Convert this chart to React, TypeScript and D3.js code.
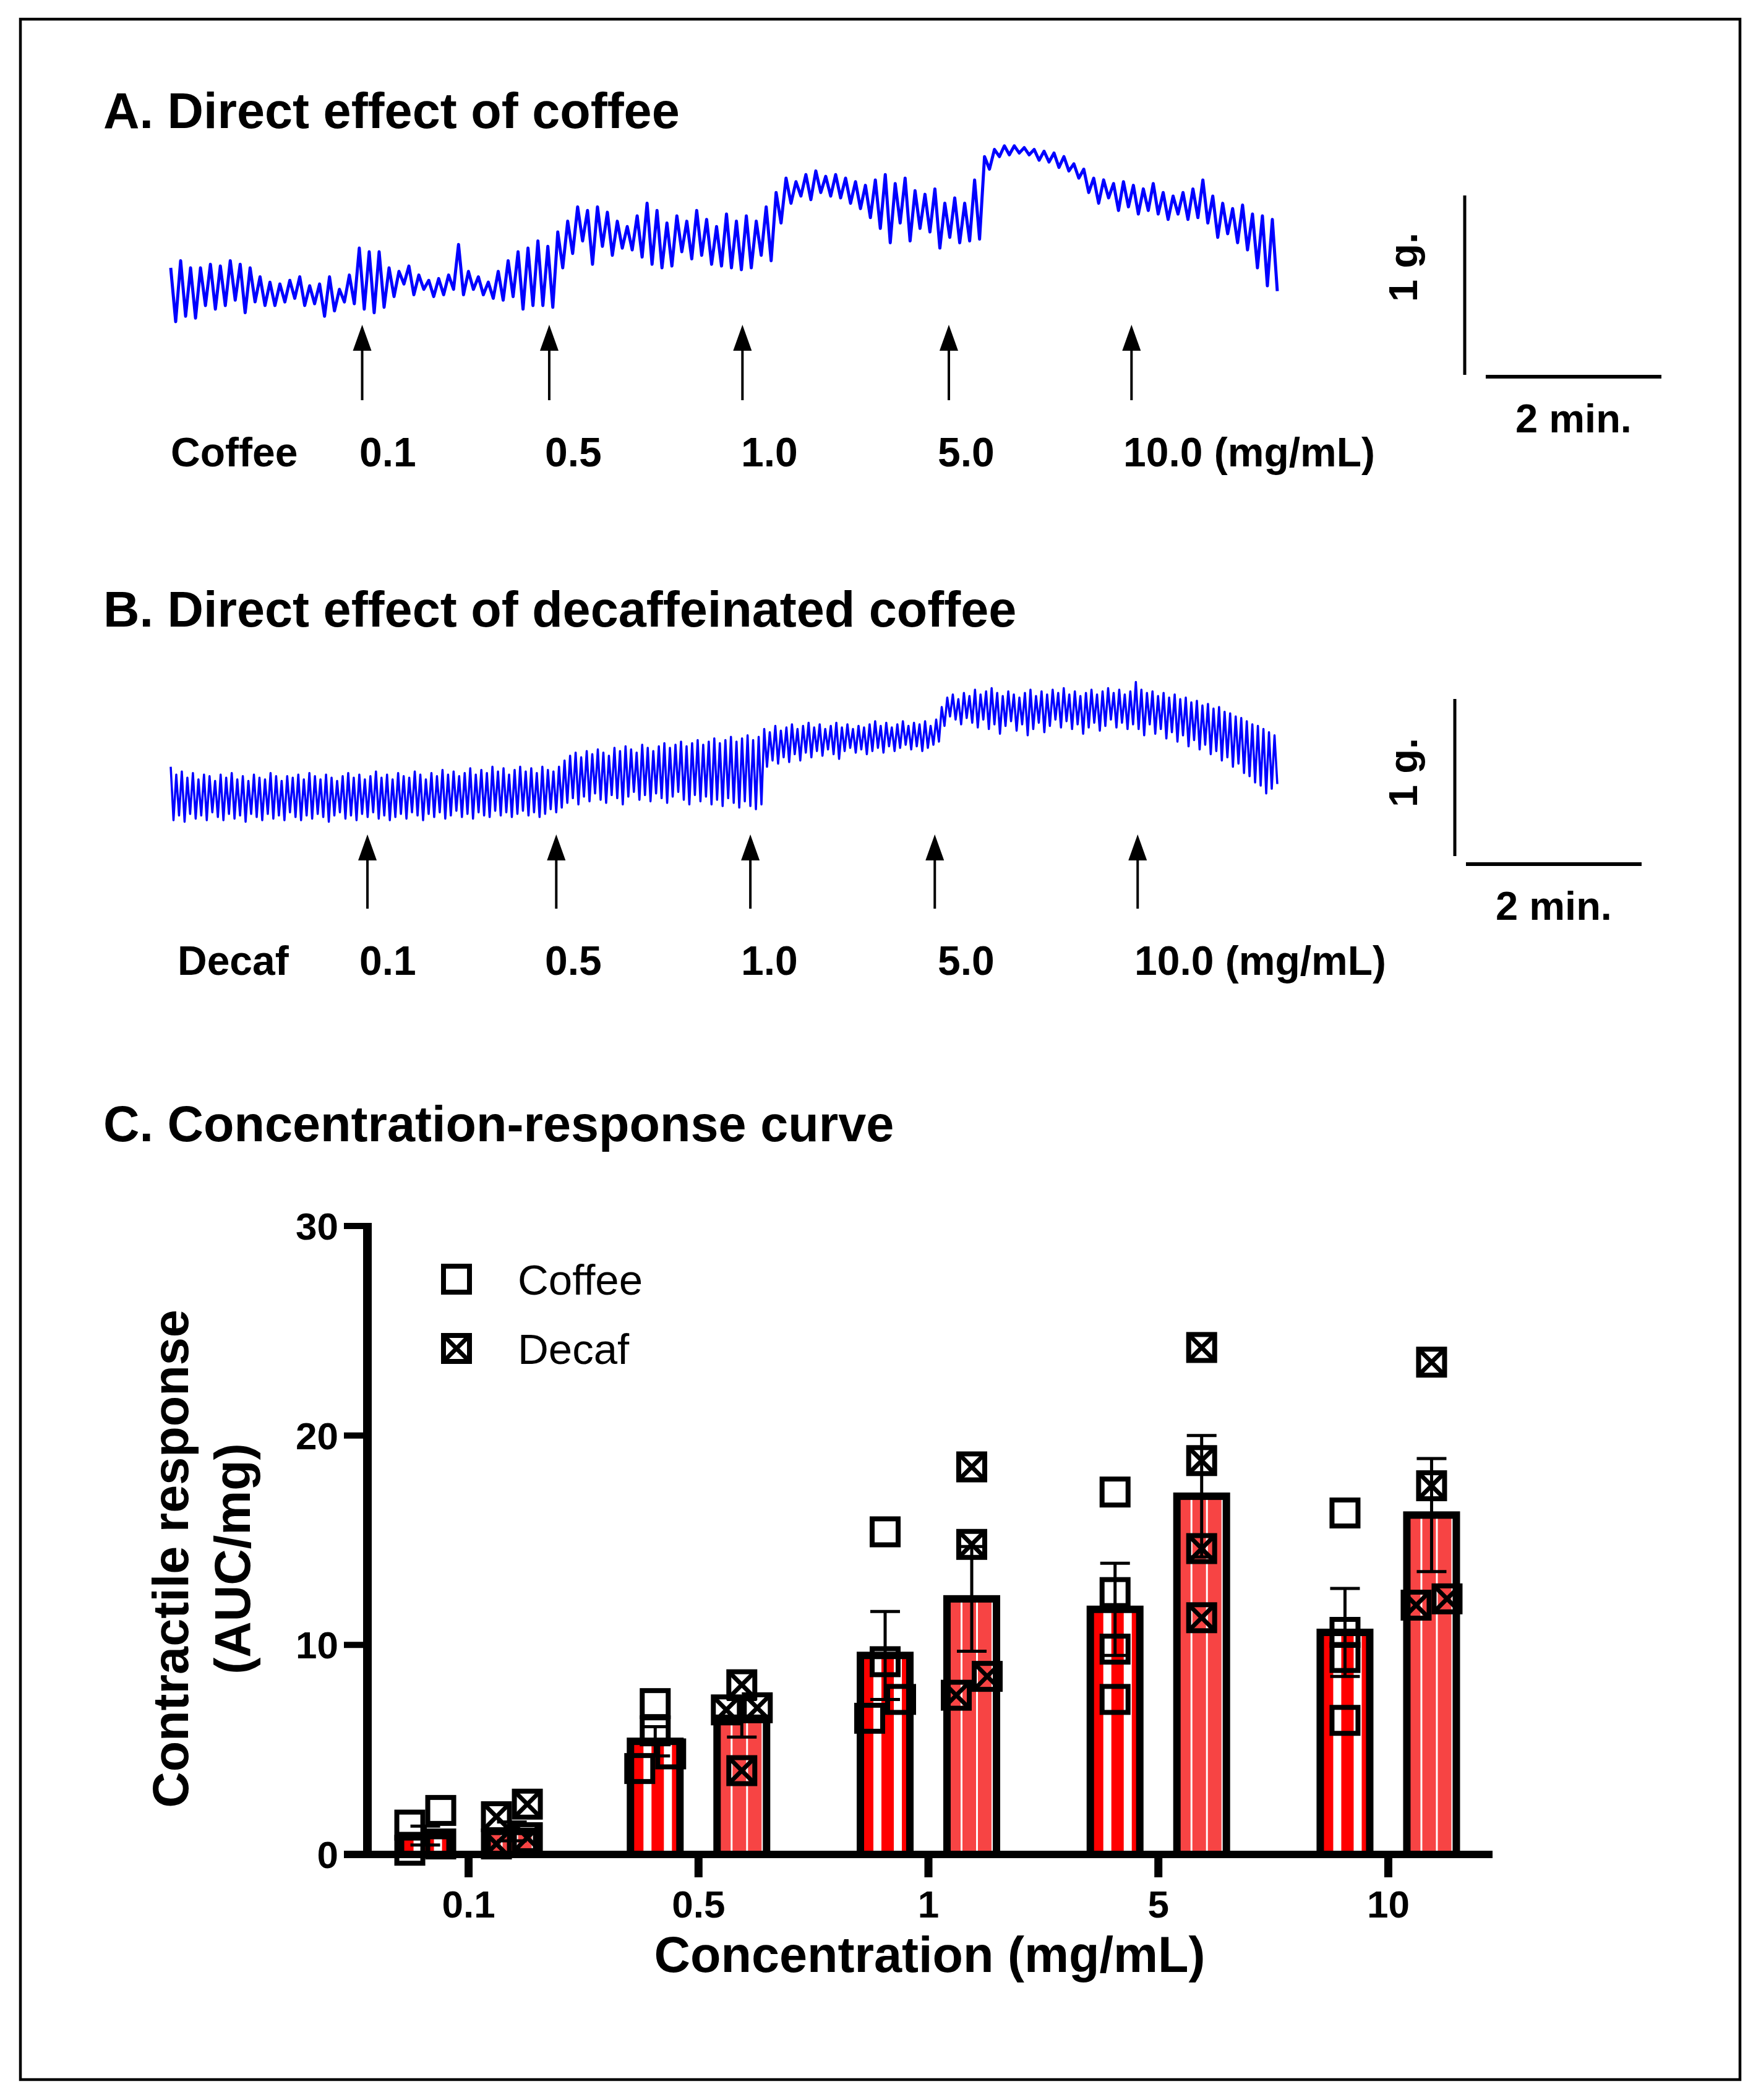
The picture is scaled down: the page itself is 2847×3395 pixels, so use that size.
import React, { useEffect, useRef } from 'react';
import * as d3 from 'd3';

// Panels A and B: isometric tension traces, peak and trough of each twitch (g above trace floor)
const coffeePeaks = [
  0.30, 0.34, 0.30, 0.30, 0.32, 0.31, 0.34, 0.32, 0.30, 0.25,
  0.22, 0.21, 0.23, 0.25, 0.20, 0.21, 0.25, 0.18, 0.26, 0.41,
  0.39, 0.39, 0.30, 0.28, 0.31, 0.26, 0.23, 0.24, 0.26, 0.43,
  0.28, 0.25, 0.22, 0.28, 0.34, 0.39, 0.41, 0.45, 0.42, 0.50,
  0.56, 0.64, 0.62, 0.64, 0.61, 0.56, 0.53, 0.59, 0.66, 0.62,
  0.55, 0.59, 0.56, 0.62, 0.57, 0.53, 0.60, 0.56, 0.59, 0.56,
  0.64, 0.72, 0.80, 0.78, 0.82, 0.84, 0.81, 0.82, 0.80, 0.78,
  0.76, 0.79, 0.82, 0.77, 0.80, 0.73, 0.71, 0.74, 0.66, 0.69,
  0.66, 0.79, 0.92, 0.96, 0.98, 0.98, 0.97, 0.96, 0.95, 0.94,
  0.92, 0.88, 0.85, 0.80, 0.79, 0.77, 0.78, 0.76, 0.74, 0.77,
  0.72, 0.70, 0.72, 0.74, 0.79, 0.70, 0.66, 0.63, 0.65, 0.60,
  0.59, 0.57,
];
const coffeeTroughs = [
  0.00, 0.03, 0.02, 0.09, 0.07, 0.09, 0.12, 0.05, 0.11, 0.09,
  0.09, 0.11, 0.13, 0.09, 0.10, 0.03, 0.06, 0.11, 0.10, 0.07,
  0.05, 0.08, 0.14, 0.21, 0.15, 0.18, 0.14, 0.15, 0.18, 0.15,
  0.18, 0.15, 0.13, 0.12, 0.14, 0.07, 0.09, 0.09, 0.08, 0.30,
  0.38, 0.45, 0.32, 0.42, 0.37, 0.41, 0.40, 0.36, 0.32, 0.30,
  0.31, 0.39, 0.35, 0.37, 0.32, 0.31, 0.30, 0.29, 0.30, 0.37,
  0.34, 0.55, 0.66, 0.70, 0.68, 0.72, 0.70, 0.69, 0.66, 0.63,
  0.58, 0.52, 0.44, 0.55, 0.45, 0.52, 0.50, 0.41, 0.47, 0.44,
  0.45, 0.46, 0.85, 0.92, 0.93, 0.94, 0.93, 0.90, 0.89, 0.86,
  0.84, 0.80, 0.72, 0.66, 0.69, 0.62, 0.64, 0.60, 0.62, 0.60,
  0.57, 0.60, 0.57, 0.58, 0.55, 0.47, 0.49, 0.44, 0.40, 0.30,
  0.20, 0.17,
];
const decafPeaks = [
  0.36, 0.31, 0.33, 0.29, 0.32, 0.28, 0.31, 0.30, 0.27, 0.31,
  0.29, 0.32, 0.28, 0.30, 0.27, 0.31, 0.29, 0.28, 0.32, 0.30,
  0.27, 0.30, 0.29, 0.31, 0.28, 0.32, 0.30, 0.28, 0.31, 0.29,
  0.27, 0.30, 0.32, 0.29, 0.31, 0.28, 0.30, 0.33, 0.29, 0.31,
  0.28, 0.32, 0.30, 0.29, 0.33, 0.31, 0.28, 0.32, 0.30, 0.34,
  0.31, 0.33, 0.30, 0.32, 0.35, 0.31, 0.34, 0.32, 0.36, 0.33,
  0.35, 0.31, 0.34, 0.36, 0.33, 0.35, 0.32, 0.36, 0.34, 0.33,
  0.36,
  0.40, 0.43, 0.45, 0.42, 0.46, 0.44, 0.47, 0.45, 0.43, 0.48,
  0.46, 0.49, 0.47, 0.45, 0.50, 0.48, 0.46, 0.49, 0.51, 0.48,
  0.50, 0.52, 0.49, 0.51, 0.53, 0.50, 0.52, 0.54, 0.51, 0.53,
  0.55, 0.52, 0.54, 0.56, 0.53, 0.55,
  0.60, 0.58, 0.62, 0.59, 0.61, 0.63, 0.60, 0.62, 0.64, 0.61,
  0.63, 0.60, 0.62, 0.64, 0.61, 0.63, 0.60, 0.62, 0.61, 0.63,
  0.65, 0.62, 0.64, 0.61, 0.63, 0.65, 0.62, 0.64, 0.63, 0.65,
  0.62, 0.66,
  0.74, 0.80, 0.82, 0.79, 0.83, 0.81, 0.85, 0.82, 0.84, 0.86,
  0.83, 0.81, 0.84, 0.82, 0.80, 0.83, 0.85, 0.81, 0.84, 0.82,
  0.85, 0.83, 0.86, 0.82, 0.84, 0.81, 0.83, 0.85, 0.82, 0.84,
  0.86, 0.83, 0.85, 0.82, 0.84,
  0.90, 0.85, 0.83, 0.84, 0.81, 0.83, 0.80, 0.82, 0.79, 0.80,
  0.77, 0.78, 0.75, 0.76, 0.73, 0.74, 0.71, 0.70, 0.68, 0.67,
  0.65, 0.63, 0.62, 0.60, 0.58, 0.56,
];
const decafTroughs = [
  0.02, 0.05, 0.01, 0.06, 0.03, 0.05, 0.02, 0.07, 0.04, 0.02,
  0.06, 0.03, 0.05, 0.01, 0.06, 0.04, 0.02, 0.06, 0.03, 0.05,
  0.02, 0.07, 0.04, 0.02, 0.05, 0.03, 0.06, 0.04, 0.01, 0.05,
  0.07, 0.03, 0.05, 0.02, 0.06, 0.04, 0.07, 0.03, 0.05, 0.02,
  0.04, 0.06, 0.03, 0.07, 0.05, 0.02, 0.06, 0.04, 0.07, 0.03,
  0.05, 0.08, 0.04, 0.06, 0.03, 0.07, 0.05, 0.04, 0.08, 0.05,
  0.07, 0.04, 0.06, 0.08, 0.05, 0.07, 0.04, 0.06, 0.09, 0.07,
  0.10,
  0.13, 0.16, 0.12, 0.17, 0.14, 0.19, 0.15, 0.13, 0.18, 0.16,
  0.12, 0.17, 0.20, 0.15, 0.18, 0.14, 0.19, 0.16, 0.13, 0.17,
  0.20, 0.15, 0.12, 0.18, 0.14, 0.17, 0.12, 0.15, 0.11, 0.16,
  0.13, 0.10, 0.14, 0.11, 0.09, 0.12,
  0.36, 0.40, 0.38, 0.42, 0.39, 0.44, 0.40, 0.45, 0.42, 0.46,
  0.43, 0.47, 0.44, 0.41, 0.46, 0.48, 0.45, 0.47, 0.44, 0.46,
  0.48, 0.45, 0.49, 0.46, 0.48, 0.50, 0.47, 0.49, 0.46, 0.48,
  0.50, 0.52,
  0.62, 0.68, 0.66, 0.63, 0.67, 0.64, 0.61, 0.66, 0.60, 0.63,
  0.57, 0.62, 0.65, 0.59, 0.63, 0.56, 0.60, 0.64, 0.58, 0.62,
  0.66, 0.61, 0.65, 0.60, 0.63, 0.57, 0.61, 0.64, 0.59, 0.62,
  0.66, 0.61, 0.64, 0.60, 0.63,
  0.60, 0.56, 0.63, 0.57, 0.60, 0.54, 0.58, 0.52, 0.56, 0.49,
  0.53, 0.47, 0.50, 0.44, 0.46, 0.40, 0.42, 0.36, 0.38, 0.32,
  0.30, 0.26, 0.24, 0.19, 0.22, 0.25,
];
const traceMinutes = 12.6;
// minutes after start of recording at which each dose was added
const coffeeDoseTimes = [2.18, 4.31, 6.51, 8.86, 10.94];
const decafDoseTimes = [2.24, 4.39, 6.60, 8.70, 11.01];
const doseLabels = ['0.1', '0.5', '1.0', '5.0', '10.0 (mg/mL)'];

// Panel C: concentration-response
const concentrations = ['0.1', '0.5', '1', '5', '10'];
const series = ['Coffee', 'Decaf'];
const coffeeMean = [0.9, 5.4, 9.5, 11.7, 10.6];
const coffeeSem = [0.45, 0.7, 2.1, 2.2, 2.1];
const decafMean = [1.1, 6.5, 12.2, 17.1, 16.2];
const decafSem = [0.45, 0.9, 2.5, 2.9, 2.7];
const coffeePoints = [
  [2.1, 1.4, 0.5, 0.2],
  [7.2, 5.9, 4.8, 4.1],
  [15.4, 9.2, 7.4, 6.5],
  [17.3, 12.5, 9.8, 7.4],
  [16.3, 10.6, 9.4, 6.4],
];
const decafPoints = [
  [2.4, 1.8, 0.8, 0.5],
  [8.1, 7.0, 6.9, 4.0],
  [18.5, 14.8, 8.5, 7.6],
  [24.2, 18.8, 14.6, 11.3],
  [23.5, 17.6, 12.2, 11.9],
];
const yTicks = [0, 10, 20, 30];

const font = '"Liberation Sans", Arial, Helvetica, sans-serif';

function drawTrace(svg, o) {
  const t = d3.scaleLinear().domain([0, traceMinutes]).range([276, 2065]);
  const g = d3.scaleLinear().domain([0, 1]).range([o.floor, o.floor - o.gramPx]);
  const vals = o.peaks.flatMap((p, i) => [p, o.troughs[i]]);
  const step = traceMinutes / (vals.length - 1);
  const line = d3.line().x((d, i) => t(i * step)).y(d => g(d));

  svg.append('path')
    .attr('d', line(vals))
    .attr('fill', 'none')
    .attr('stroke', '#0000ff')
    .attr('stroke-width', o.lineWidth)
    .attr('stroke-linejoin', 'round');

  const arrows = svg.append('g')
    .selectAll('g')
    .data(o.doses)
    .join('g')
    .attr('transform', d => `translate(${t(d)},0)`);
  arrows.append('line')
    .attr('y1', o.arrowTop + 30)
    .attr('y2', o.arrowEnd)
    .attr('stroke', '#000')
    .attr('stroke-width', 4);
  arrows.append('path')
    .attr('d', `M0,${o.arrowTop}L-15,${o.arrowTop + 42}L15,${o.arrowTop + 42}Z`)
    .attr('fill', '#000');

  const label = (txt, x) => svg.append('text')
    .attr('x', x)
    .attr('y', o.labelY)
    .attr('font-family', font)
    .attr('font-weight', 'bold')
    .attr('font-size', 66)
    .text(txt);
  label(o.name, o.nameX);
  doseLabels.forEach((d, i) => label(d, o.labelStarts[i]));

  // scale bars: 1 g and 2 min
  const gLen = g(0) - g(1);
  const tLen = t(2) - t(0);
  svg.append('line')
    .attr('x1', o.barX).attr('x2', o.barX)
    .attr('y1', o.barBottom).attr('y2', o.barBottom - gLen)
    .attr('stroke', '#000').attr('stroke-width', 5);
  svg.append('line')
    .attr('x1', o.hBarX).attr('x2', o.hBarX + tLen)
    .attr('y1', o.hBarY).attr('y2', o.hBarY)
    .attr('stroke', '#000').attr('stroke-width', 6);
  svg.append('text')
    .attr('transform', `translate(2291,${o.gLabelY}) rotate(-90)`)
    .attr('text-anchor', 'middle')
    .attr('font-family', font)
    .attr('font-weight', 'bold')
    .attr('font-size', 65)
    .text('1 g.');
  svg.append('text')
    .attr('x', o.hBarX + tLen / 2)
    .attr('y', o.minY)
    .attr('text-anchor', 'middle')
    .attr('font-family', font)
    .attr('font-weight', 'bold')
    .attr('font-size', 65)
    .text('2 min.');
}

// spread overlapping replicate points sideways, like a column scatter
function jitter(values) {
  const order = values.map((v, i) => i).sort((a, b) => values[b] - values[a]);
  const offs = values.map(() => 0);
  let k = 0;
  while (k < order.length) {
    let j = k;
    while (j + 1 < order.length && values[order[j]] - values[order[j + 1]] < 1.0) j++;
    if (j > k) {
      for (let m = k; m <= j; m++) offs[order[m]] = (m - k) % 2 === 0 ? 1 : -1;
    }
    k = j + 1;
  }
  return offs;
}

function App() {
  const svgRef = useRef(null);

  useEffect(() => {
    const svg = d3.select(svgRef.current);
    svg.selectAll('*').remove();

    svg.append('rect')
      .attr('x', 33).attr('y', 31)
      .attr('width', 2780).attr('height', 3331)
      .attr('fill', 'none')
      .attr('stroke', '#000')
      .attr('stroke-width', 4.5);

    const title = (txt, y) => svg.append('text')
      .attr('x', 167)
      .attr('y', y)
      .attr('font-family', font)
      .attr('font-weight', 'bold')
      .attr('font-size', 81)
      .text(txt);
    title('A. Direct effect of coffee', 207);
    title('B. Direct effect of decaffeinated coffee', 1013);
    title('C. Concentration-response curve', 1845);

    drawTrace(svg, {
      peaks: coffeePeaks, troughs: coffeeTroughs, doses: coffeeDoseTimes,
      floor: 520, gramPx: 290, lineWidth: 5,
      arrowTop: 525, arrowEnd: 647,
      name: 'Coffee', nameX: 276, labelY: 754,
      labelStarts: [581, 881, 1198, 1516, 1816],
      barX: 2368, barBottom: 606, hBarX: 2402, hBarY: 609,
      gLabelY: 432, minY: 699,
    });
    drawTrace(svg, {
      peaks: decafPeaks, troughs: decafTroughs, doses: decafDoseTimes,
      floor: 1331, gramPx: 254, lineWidth: 3.5,
      arrowTop: 1349, arrowEnd: 1469,
      name: 'Decaf', nameX: 287, labelY: 1576,
      labelStarts: [581, 881, 1198, 1516, 1834],
      barX: 2352, barBottom: 1384, hBarX: 2370, hBarY: 1397,
      gLabelY: 1249, minY: 1487,
    });

    // ---- Panel C ----
    const x = d3.scalePoint().domain(concentrations).range([594, 2408]).padding(0.44);
    const off = d3.scalePoint().domain(series).range([-70, 70]);
    const y = d3.scaleLinear().domain([0, 30]).range([2998, 1982]);
    const fills = { Coffee: '#ff0000', Decaf: '#f74444' };

    const rows = concentrations.flatMap((c, i) => [
      { c, s: 'Coffee', mean: coffeeMean[i], sem: coffeeSem[i], pts: coffeePoints[i] },
      { c, s: 'Decaf', mean: decafMean[i], sem: decafSem[i], pts: decafPoints[i] },
    ]);
    const cx = d => x(d.c) + off(d.s);

    const bars = svg.append('g').selectAll('g').data(rows).join('g');
    bars.append('rect')
      .attr('x', d => cx(d) - 40)
      .attr('y', d => y(d.mean))
      .attr('width', 80)
      .attr('height', d => y(0) - y(d.mean))
      .attr('fill', d => fills[d.s]);
    bars.each(function (d) {
      const gEl = d3.select(this);
      const stripes = d.s === 'Coffee' ? [[-19, 13], [14, 13]] : [[-18, 3], [7, 3], [32, 3]];
      stripes.forEach(([dx, w]) => {
        gEl.append('rect')
          .attr('x', cx(d) + dx)
          .attr('y', y(d.mean))
          .attr('width', w)
          .attr('height', y(0) - y(d.mean))
          .attr('fill', '#fff');
      });
    });
    bars.append('rect')
      .attr('x', d => cx(d) - 40)
      .attr('y', d => y(d.mean))
      .attr('width', 80)
      .attr('height', d => y(0) - y(d.mean))
      .attr('fill', 'none')
      .attr('stroke', '#000')
      .attr('stroke-width', 12);

    // axes
    svg.append('line')
      .attr('x1', 556).attr('x2', 2413)
      .attr('y1', y(0)).attr('y2', y(0))
      .attr('stroke', '#000').attr('stroke-width', 12);
    svg.append('line')
      .attr('x1', 594).attr('x2', 594)
      .attr('y1', y(30) - 5).attr('y2', y(0) + 6)
      .attr('stroke', '#000').attr('stroke-width', 14);
    svg.append('g').selectAll('line').data(yTicks).join('line')
      .attr('x1', 556).attr('x2', 594)
      .attr('y1', d => y(d)).attr('y2', d => y(d))
      .attr('stroke', '#000').attr('stroke-width', 10);
    svg.append('g').selectAll('text').data(yTicks).join('text')
      .attr('x', 547)
      .attr('y', d => y(d) + 22)
      .attr('text-anchor', 'end')
      .attr('font-family', font)
      .attr('font-weight', 'bold')
      .attr('font-size', 62)
      .text(d => d);
    svg.append('g').selectAll('line').data(concentrations).join('line')
      .attr('x1', d => x(d)).attr('x2', d => x(d))
      .attr('y1', y(0)).attr('y2', 3035)
      .attr('stroke', '#000').attr('stroke-width', 13);
    svg.append('g').selectAll('text').data(concentrations).join('text')
      .attr('x', d => x(d))
      .attr('y', 3100)
      .attr('text-anchor', 'middle')
      .attr('font-family', font)
      .attr('font-weight', 'bold')
      .attr('font-size', 62)
      .text(d => d);

    // error bars (mean ± SEM)
    const err = svg.append('g').selectAll('g').data(rows).join('g')
      .attr('stroke', '#000').attr('stroke-width', 5);
    err.append('line')
      .attr('x1', cx).attr('x2', cx)
      .attr('y1', d => y(d.mean - d.sem)).attr('y2', d => y(d.mean + d.sem));
    err.append('line')
      .attr('x1', d => cx(d) - 24).attr('x2', d => cx(d) + 24)
      .attr('y1', d => y(d.mean + d.sem)).attr('y2', d => y(d.mean + d.sem));
    err.append('line')
      .attr('x1', d => cx(d) - 24).attr('x2', d => cx(d) + 24)
      .attr('y1', d => y(d.mean - d.sem)).attr('y2', d => y(d.mean - d.sem));

    // replicate points
    const marker = (sel, px, py, crossed) => {
      sel.append('rect')
        .attr('x', px - 21).attr('y', py - 21)
        .attr('width', 42).attr('height', 42)
        .attr('fill', 'none')
        .attr('stroke', '#000')
        .attr('stroke-width', 8);
      if (crossed) {
        sel.append('path')
          .attr('d', `M${px - 21},${py - 21}L${px + 21},${py + 21}M${px + 21},${py - 21}L${px - 21},${py + 21}`)
          .attr('stroke', '#000')
          .attr('stroke-width', 7);
      }
    };
    const ptsG = svg.append('g');
    rows.forEach(d => {
      const offs = jitter(d.pts);
      d.pts.forEach((v, i) => marker(ptsG, cx(d) + offs[i] * 25, y(v), d.s === 'Decaf'));
    });

    // legend
    series.forEach((s, i) => {
      const ly = 2068 + i * 112;
      marker(svg, 738, ly, s === 'Decaf');
      svg.append('text')
        .attr('x', 837)
        .attr('y', ly + 25)
        .attr('font-family', font)
        .attr('font-size', 69)
        .text(s);
    });

    // axis titles
    svg.append('text')
      .attr('x', 1503)
      .attr('y', 3188)
      .attr('text-anchor', 'middle')
      .attr('font-family', font)
      .attr('font-weight', 'bold')
      .attr('font-size', 81)
      .text('Concentration (mg/mL)');
    ['Contractile response', '(AUC/mg)'].forEach((txt, i) => {
      svg.append('text')
        .attr('transform', `translate(${304 + i * 100},2520) rotate(-90)`)
        .attr('text-anchor', 'middle')
        .attr('font-family', font)
        .attr('font-weight', 'bold')
        .attr('font-size', 81)
        .text(txt);
    });
  }, []);

  return (
    <svg
      ref={svgRef}
      width={2847}
      height={3395}
      style={{ position: 'absolute', left: 0, top: 0, background: '#fff' }}
    />
  );
}

export default App;
